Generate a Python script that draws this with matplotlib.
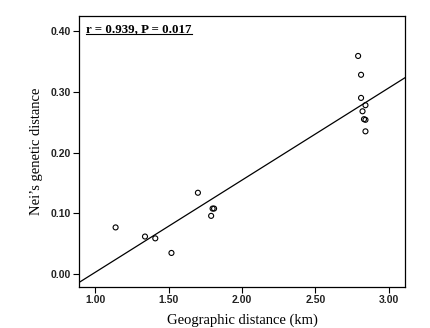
import matplotlib
matplotlib.use("Agg")
import matplotlib.pyplot as plt
import numpy as np
from matplotlib.lines import Line2D

geo_km = [1.14, 1.34, 1.41, 1.52, 1.70, 1.79, 1.80, 1.81,
          2.79, 2.81, 2.81, 2.84, 2.82, 2.83, 2.84, 2.84]
nei = [0.077, 0.062, 0.059, 0.035, 0.134, 0.096, 0.108, 0.108,
       0.359, 0.328, 0.290, 0.278, 0.268, 0.255, 0.254, 0.235]
xticks = [1.00, 1.50, 2.00, 2.50, 3.00]
yticks = [0.00, 0.10, 0.20, 0.30, 0.40]
stat_text = "r = 0.939, P = 0.017"

fig = plt.figure(figsize=(4.30, 3.28), dpi=100)
W, H = 430, 328
ax = fig.add_axes([79 / W, 1 - 287 / H, (405 - 79) / W, (287 - 16) / H])

ax.scatter(geo_km, nei, s=13, facecolors="none", edgecolors="black", linewidths=0.8, zorder=3)

xlim = (0.891, 3.109)
ylim = (-0.021, 0.4247)
slope, intercept = np.polyfit(geo_km, nei, 1)
xs = np.array(xlim)
ax.plot(xs, intercept + slope * xs, color="black", lw=0.9)

ax.set_xlim(*xlim)
ax.set_ylim(*ylim)
ax.set_xticks(xticks)
ax.set_yticks(yticks)
ax.set_xticklabels([f"{v:.2f}" for v in xticks])
ax.set_yticklabels([f"{v:.2f}" for v in yticks])
for lab in ax.get_xticklabels() + ax.get_yticklabels():
    lab.set_fontfamily("Liberation Sans")
    lab.set_fontweight("bold")
    lab.set_fontsize(7.5)
    lab.set_color("#222222")
ax.tick_params(axis="both", direction="out", length=4, width=0.8, pad=2)
ax.tick_params(top=False, right=False)
for sp in ax.spines.values():
    sp.set_linewidth(0.9)

ax.set_xlabel("Geographic distance (km)", family="Liberation Serif", fontsize=10.5, labelpad=6)
ax.set_ylabel("Nei\u2019s genetic distance", family="Liberation Serif", fontsize=10.5, labelpad=5)

t = ax.text(0.023, 0.975, stat_text, transform=ax.transAxes, family="Liberation Serif",
            fontweight="bold", fontsize=9.3, va="top", ha="left")
fig.canvas.draw()
bb = t.get_window_extent(renderer=fig.canvas.get_renderer())
inv = fig.transFigure.inverted()
(x0, y0), (x1, y1) = inv.transform([[bb.x0, bb.y0], [bb.x1, bb.y0]])
fig.add_artist(Line2D([x0, x1], [y0 + 1.0 / H, y0 + 1.0 / H], transform=fig.transFigure,
                      color="black", lw=0.8))

fig.savefig("out.png", dpi=100)
